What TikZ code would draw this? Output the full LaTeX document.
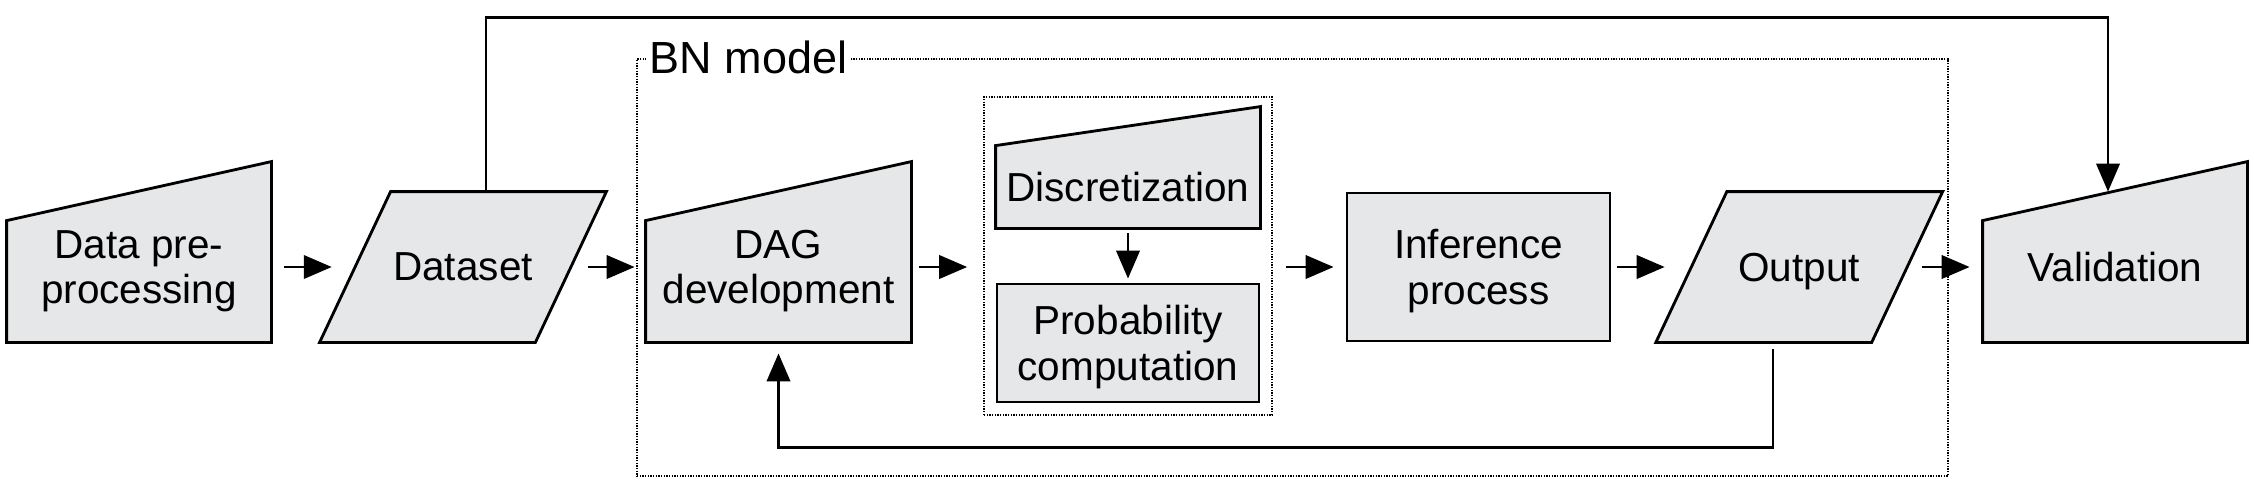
\documentclass[tikz,border=0pt]{standalone}
\usepackage{fontspec}
\setmainfont{Liberation Sans}
\usetikzlibrary{arrows.meta,backgrounds}
\definecolor{boxgray}{RGB}{230,231,232}

\begin{document}
\begin{tikzpicture}[x=0.3pt,y=-0.3pt]
\fontsize{12.15pt}{13.7pt}\selectfont
\useasboundingbox (0,0) rectangle (2254,493);
\begin{scope}[line width=0.85pt,
              arr/.style={line width=0.85pt,-{Triangle[length=8.4pt,width=7pt]}},
              block1/.style={rectangle,align=center,inner sep=0pt,text depth=0pt},
              block2/.style={rectangle,draw,fill=boxgray,line width=0.85pt,align=center,inner sep=0pt,text depth=0pt},
              twoline/.style={text depth=-2pt},
              outline/.style={draw,fill=boxgray,line width=0.85pt},
              group/.style={rectangle,draw,line width=0.5pt,dash pattern=on 0.4pt off 0.4pt,inner sep=0pt}]
    \node [group,minimum width=393.3pt,minimum height=125.1pt] (bn) at (1292.5,267.5) {};
    \node [group,minimum width=86.4pt,minimum height=95.4pt] (grp) at (1128,256) {};
    \node [fill=white,inner sep=1pt,anchor=west,font=\fontsize{13.5pt}{16pt}\selectfont] (bnlabel) at (645,57) {BN model};
    \node [block1,twoline,minimum width=78.6pt,minimum height=44.4pt] (1) at (139,267) {Data pre-\\processing};
    \node [block1,minimum width=63.9pt,minimum height=44.4pt] (2) at (463,267) {Dataset};
    \node [block1,twoline,minimum width=78.9pt,minimum height=44.4pt] (3) at (778.5,267) {DAG\\development};
    \node [block1,minimum width=78.6pt,minimum height=24pt] (4) at (1128,187) {Discretization};
    \node [block2,text depth=-0.2pt,minimum width=78.6pt,minimum height=35.4pt] (5) at (1128,343) {Probability\\computation};
    \node [block2,twoline,minimum width=78.9pt,minimum height=44.4pt] (6) at (1478.5,267) {Inference\\process};
    \node [block1,minimum width=63.9pt,minimum height=44.4pt] (7) at (1799.25,267) {Output};
    \node [block1,minimum width=78.6pt,minimum height=44.4pt] (8) at (2115,267) {Validation};
    \begin{pgfonlayer}{background}
        \path [outline] (1.south west) -- (1.south east) -- ([yshift=9pt]1.north east) -- ([yshift=-8.7pt]1.north west) -- cycle;
        \path [outline] ([xshift=-10.65pt]2.south west) -- ([xshift=-10.65pt]2.south east) -- ([xshift=10.65pt]2.north east) -- ([xshift=10.65pt]2.north west) -- cycle;
        \path [outline] (3.south west) -- (3.south east) -- ([yshift=9pt]3.north east) -- ([yshift=-8.7pt]3.north west) -- cycle;
        \path [outline] (4.south west) -- (4.south east) -- ([yshift=11.7pt]4.north east) -- (4.north west) -- cycle;
        \path [outline] ([xshift=-10.65pt]7.south west) -- ([xshift=-10.65pt]7.south east) -- ([xshift=10.65pt]7.north east) -- ([xshift=10.65pt]7.north west) -- cycle;
        \path [outline] (8.south west) -- (8.south east) -- ([yshift=9pt]8.north east) -- ([yshift=-8.7pt]8.north west) -- cycle;
    \end{pgfonlayer}
    \draw [arr,shorten <=3.9pt,shorten >=7pt] (1) -- (2);
    \draw [arr,shorten <=5pt,shorten >=3.3pt] (2) -- (3);
    \draw [arr,shorten <=2.4pt,shorten >=4.8pt] (3.east) -- (grp.west |- 3.east);
    \draw [arr,shorten <=1.5pt,shorten >=1.2pt] (4) -- (5);
    \draw [arr,shorten <=3.9pt,shorten >=3.6pt] (grp.east |- 6.west) -- (6.west);
    \draw [arr,shorten <=1.8pt,shorten >=8pt] (6) -- (7);
    \draw [arr,shorten <=4.5pt,shorten >=3.9pt] (7) -- (8);
%    feedback from the output
    \draw [arr,shorten <=2.1pt,shorten >=3.3pt] ([xshift=-7.9pt]7.south) -- ++(0,105) -| (3.south);
    \draw [arr] ([xshift=6.9pt]2.north) -- ++(0,-174) -| ([xshift=-2.1pt]8.north);
\end{scope}
\end{tikzpicture}
\end{document}
